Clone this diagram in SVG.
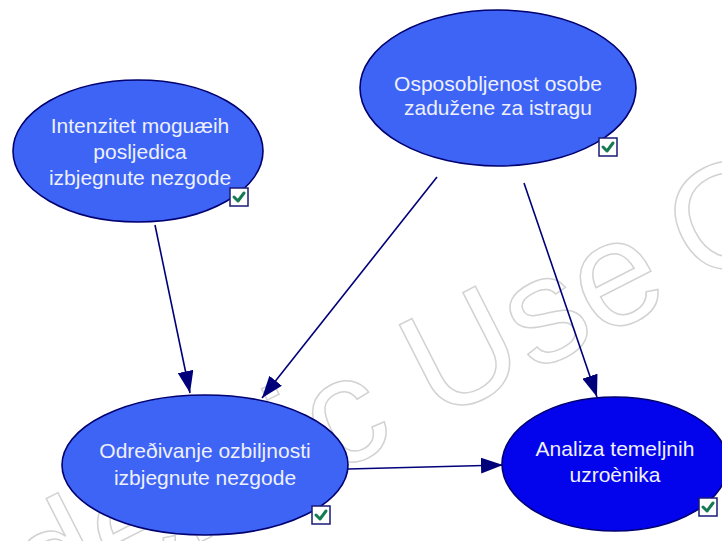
<svg xmlns="http://www.w3.org/2000/svg" width="722" height="541" viewBox="0 0 722 541">
<style>
.wm{font-family:"Liberation Sans",Arial,sans-serif;font-size:150px;fill:none;stroke:#d2d2d2;stroke-width:1.5}
.node{stroke:#000070;stroke-width:1.6}
.n1{fill:#3d64f4}
.n2{fill:#0303ec}
.lbl{font-family:"Liberation Sans",Arial,sans-serif;font-size:21px;fill:#eef0ff;text-anchor:middle}
.edge{stroke:#00007a;stroke-width:1.6;fill:none}
.cb{fill:#ffffff;stroke:#1a1a78;stroke-width:1.5}
.ck{fill:none;stroke:#157a52;stroke-width:3;stroke-linecap:round;stroke-linejoin:round}
</style>
<defs>
<marker id="arr" viewBox="0 0 22 16" markerWidth="22" markerHeight="16" markerUnits="userSpaceOnUse" refX="22" refY="8" orient="auto">
<path d="M0,0 L22,8 L0,16 Z" fill="#00007a"/>
</marker>
<g id="chk"><rect class="cb" x="0" y="0" width="18" height="18"/><path class="ck" d="M4,9 L8,13 L14,5"/></g>
</defs>
<rect width="722" height="541" fill="#ffffff"/>
<g id="watermark" transform="translate(436,422) rotate(-27)">
<text class="wm" x="-42" y="0" text-anchor="end">Academic</text>
<text class="wm" x="0" y="0">Use</text>
<text class="wm" x="296" y="0">Only</text>
</g>
<g id="connectors">
<line class="edge" x1="155" y1="225" x2="190" y2="393" marker-end="url(#arr)"/>
<line class="edge" x1="437" y1="177" x2="262" y2="398" marker-end="url(#arr)"/>
<line class="edge" x1="524" y1="183" x2="597" y2="397" marker-end="url(#arr)"/>
<line class="edge" x1="348" y1="469" x2="503" y2="465" marker-end="url(#arr)"/>
</g>
<g id="node-intenzitet">
<ellipse class="node n1" cx="138" cy="151" rx="125" ry="71"/>
<text class="lbl" x="140" y="133">Intenzitet moguæih</text>
<text class="lbl" x="140" y="159">posljedica</text>
<text class="lbl" x="140" y="185">izbjegnute nezgode</text>
<use href="#chk" x="230" y="188"/>
</g>
<g id="node-osposobljenost">
<ellipse class="node n1" cx="498" cy="88" rx="138" ry="78"/>
<text class="lbl" x="498" y="91">Osposobljenost osobe</text>
<text class="lbl" x="498" y="115">zadužene za istragu</text>
<use href="#chk" x="599" y="138"/>
</g>
<g id="node-odredivanje">
<ellipse class="node n1" cx="205" cy="465" rx="143" ry="70"/>
<text class="lbl" x="205" y="458">Odreðivanje ozbiljnosti</text>
<text class="lbl" x="205" y="485">izbjegnute nezgode</text>
<use href="#chk" x="312" y="506"/>
</g>
<g id="node-analiza">
<ellipse class="node n2" cx="615" cy="464" rx="113" ry="67"/>
<text class="lbl" x="615" y="456">Analiza temeljnih</text>
<text class="lbl" x="615" y="482">uzroènika</text>
<use href="#chk" x="699" y="498"/>
</g>
</svg>
